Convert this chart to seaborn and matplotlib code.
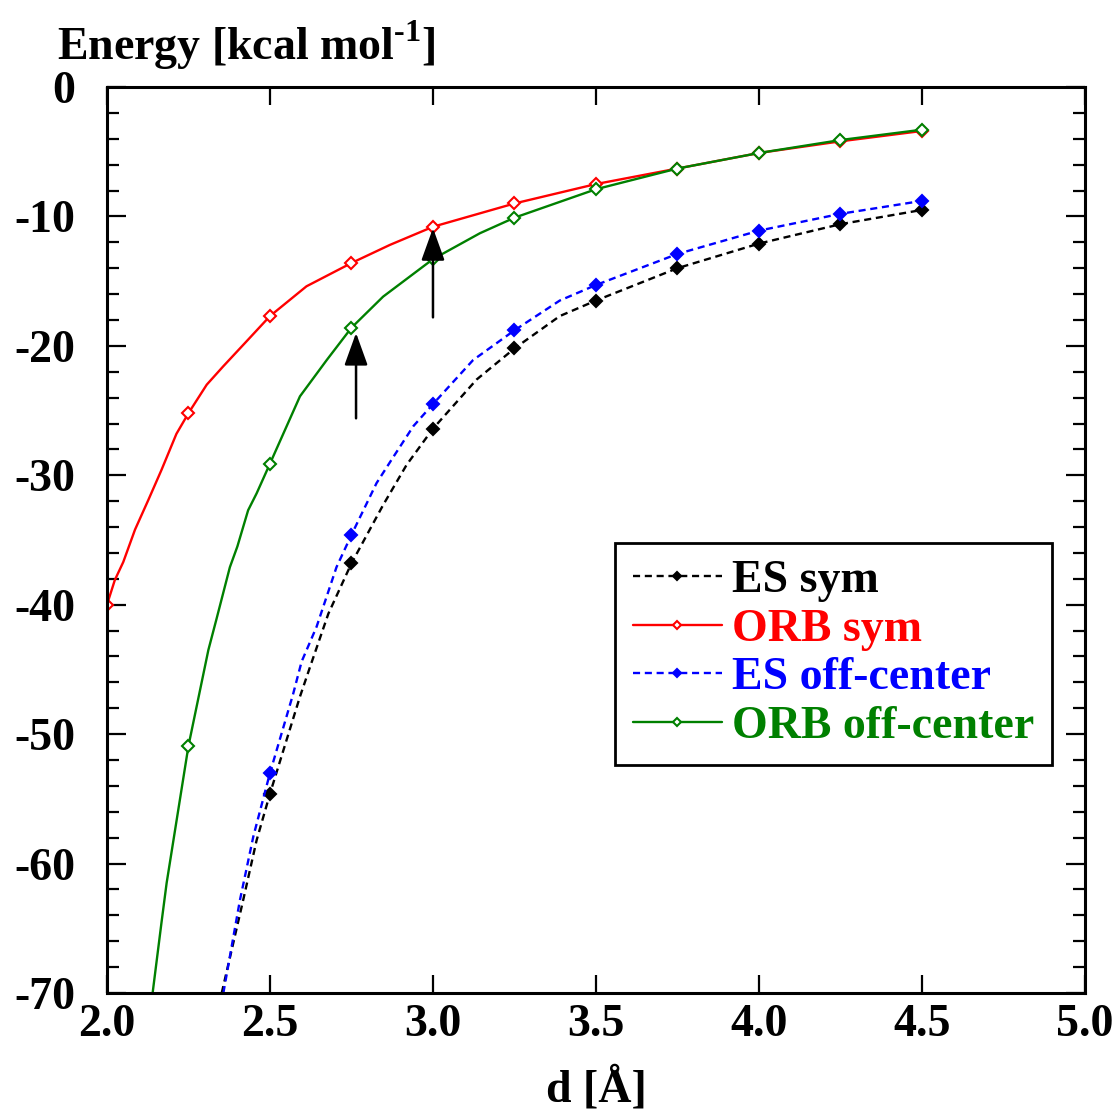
import numpy as np
import pandas as pd
import matplotlib
matplotlib.use('Agg')
import matplotlib.pyplot as plt
from matplotlib.ticker import NullLocator
import seaborn as sns

# values (d in Angstrom, energy in kcal/mol)
marker_d = [2.0, 2.25, 2.5, 2.75, 3.0, 3.25, 3.5, 3.75, 4.0, 4.25, 4.5]

es_sym_d = [2.352, 2.418, 2.459, 2.5, 2.592, 2.623, 2.679, 2.75, 2.847, 2.919, 3.0,
            3.134, 3.25, 3.389, 3.5, 3.75, 4.0, 4.25, 4.5]
es_sym_e = [-70.0, -62.8, -58.2, -54.6, -47.1, -44.8, -40.7, -36.8, -32.3, -29.2, -26.4,
            -22.6, -20.2, -17.7, -16.5, -14.0, -12.1, -10.6, -9.5]

orb_sym_d = [2.0, 2.024, 2.05, 2.086, 2.127, 2.167, 2.213, 2.25, 2.306, 2.356, 2.43, 2.5,
             2.612, 2.75, 2.868, 3.0, 3.25, 3.5, 3.75, 4.0, 4.25, 4.5]
orb_sym_e = [-40.0, -38.1, -36.7, -34.2, -31.9, -29.6, -26.8, -25.2, -23.0, -21.6, -19.6, -17.7,
             -15.4, -13.6, -12.2, -10.8, -9.0, -7.5, -6.3, -5.1, -4.2, -3.4]

es_off_d = [2.357, 2.408, 2.449, 2.5, 2.571, 2.597, 2.643, 2.704, 2.75, 2.827, 2.878, 2.94,
            3.0, 3.123, 3.25, 3.389, 3.5, 3.75, 4.0, 4.25, 4.5]
es_off_e = [-70.0, -62.8, -57.9, -53.0, -46.9, -44.4, -41.7, -37.1, -34.6, -30.6, -28.6, -26.2,
            -24.5, -21.1, -18.8, -16.5, -15.3, -12.9, -11.1, -9.8, -8.8]

orb_off_d = [2.14, 2.167, 2.183, 2.25, 2.311, 2.336, 2.377, 2.40, 2.433, 2.459, 2.5, 2.592,
             2.674, 2.75, 2.847, 3.0, 3.144, 3.25, 3.5, 3.75, 4.0, 4.25, 4.5]
orb_off_e = [-70.0, -64.6, -61.5, -50.9, -43.5, -41.1, -37.1, -35.5, -32.7, -31.4, -29.1, -23.9,
             -21.1, -18.6, -16.2, -13.3, -11.3, -10.1, -7.9, -6.3, -5.1, -4.1, -3.3]

arrow_x = [2.764, 3.0]
arrow_tail = [-25.6, -17.8]
arrow_tip = [-19.0, -10.9]

sns.set_style('ticks')
plt.rcParams['font.family'] = ['Liberation Serif', 'DejaVu Serif']
plt.rcParams['font.weight'] = 'bold'
plt.rcParams['axes.unicode_minus'] = False
plt.rcParams['mathtext.fontset'] = 'custom'
plt.rcParams['mathtext.rm'] = 'Liberation Serif:bold'
plt.rcParams['mathtext.bf'] = 'Liberation Serif:bold'
for key in ['text.color', 'axes.labelcolor', 'xtick.color', 'ytick.color', 'axes.edgecolor']:
    plt.rcParams[key] = 'black'

fig = plt.figure(figsize=(11.19, 11.15), dpi=100)
ax = fig.add_axes([0.0956, 0.1094, 0.874, 0.8126])

series = [
    ('ES sym', es_sym_d, es_sym_e, 'black', (0, (3, 2)), True),
    ('ORB sym', orb_sym_d, orb_sym_e, 'red', '-', False),
    ('ES off-center', es_off_d, es_off_e, 'blue', (0, (3, 2)), True),
    ('ORB off-center', orb_off_d, orb_off_e, 'green', '-', False),
]

for name, d, e, col, ls, filled in series:
    df = pd.DataFrame({'d': d, 'E': e})
    idx = [i for i, v in enumerate(d) if any(abs(v - m) < 1e-6 for m in marker_d)]
    sns.lineplot(data=df, x='d', y='E', ax=ax, color=col, linestyle=ls, linewidth=1.7,
                 marker='D', markevery=idx, markersize=6.5,
                 markerfacecolor=col if filled else 'white', markeredgecolor=col,
                 markeredgewidth=1.5, label=name, sort=False, estimator=None)

for x, t0, t1 in zip(arrow_x, arrow_tail, arrow_tip):
    ax.annotate('', xy=(x, t1), xytext=(x, t0),
                arrowprops=dict(arrowstyle='-|>,head_length=1.0,head_width=0.36',
                                mutation_scale=20, color='black', lw=1.8,
                                shrinkA=0, shrinkB=0))

ax.set_xlim(2.0, 5.0)
ax.set_ylim(-70, 0)
ax.set_xticks(np.arange(2.0, 5.01, 0.5))
ax.set_xticklabels([f'{v:.1f}' for v in np.arange(2.0, 5.01, 0.5)])
ax.xaxis.set_minor_locator(NullLocator())
ax.set_yticks(np.arange(-70, 1, 10))
ax.set_yticks(np.arange(-70, 1, 2), minor=True)

ax.tick_params(which='both', direction='in', top=True, right=True, width=1.6, labelsize=33,
               colors='black')
ax.tick_params(axis='y', which='major', length=14, pad=23)
ax.tick_params(axis='y', which='minor', length=8.5)
ax.tick_params(axis='x', which='major', length=13, pad=8)
for sp in ax.spines.values():
    sp.set_linewidth(2.2)
    sp.set_color('black')

ax.set_xlabel('d [Å]', fontsize=33, fontweight='bold', labelpad=15)
ax.set_ylabel('')
fig.text(57 / 1119, 1 - 60 / 1115, r'Energy [kcal mol$^{\text{-1}}$]',
         ha='left', va='baseline', fontsize=33, fontweight='bold')

leg = ax.legend(loc='upper right', bbox_to_anchor=(0.966, 0.497), borderaxespad=0,
                fontsize=33, frameon=True, fancybox=False, handlelength=1.95,
                handletextpad=0.22, labelspacing=0.14, borderpad=0.38, markerscale=0.7)
leg.get_frame().set_edgecolor('black')
leg.get_frame().set_linewidth(2.0)
leg.get_frame().set_alpha(1)
for text, line in zip(leg.get_texts(), leg.get_lines()):
    text.set_color(line.get_color())

plt.savefig('out.png', dpi=100)
